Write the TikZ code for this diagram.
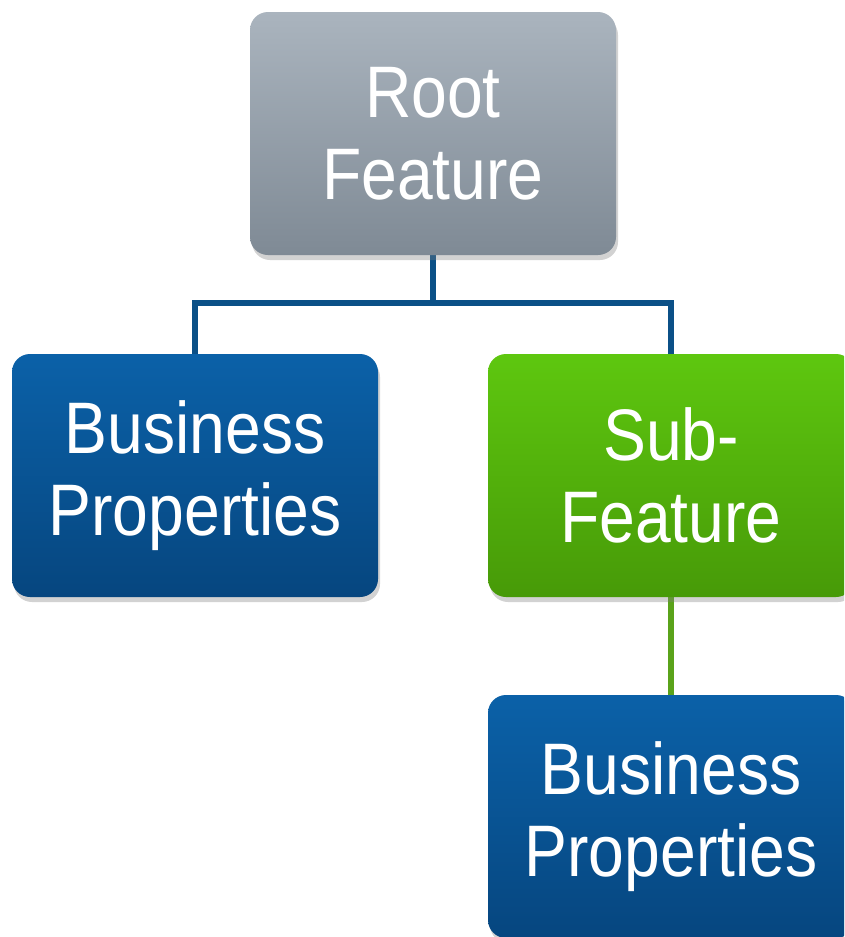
\documentclass[tikz,border=0pt]{standalone}
\usepackage{fontspec}
\setmainfont[FakeStretch=0.88]{Liberation Sans}
\usetikzlibrary{shadows,backgrounds}
\definecolor{grayT}{HTML}{AAB4BE}
\definecolor{grayB}{HTML}{7F8A95}
\definecolor{blueT}{HTML}{0B61A8}
\definecolor{blueB}{HTML}{06467F}
\definecolor{greenT}{HTML}{5EC70F}
\definecolor{greenB}{HTML}{479A08}
\definecolor{connBlue}{HTML}{0B5087}
\definecolor{connGreen}{HTML}{5AA31A}
\begin{document}
\begin{tikzpicture}[x=1pt,y=-1pt,
  box/.style={rounded corners=18pt, minimum width=366pt, minimum height=243pt,
    text=white, font=\fontsize{73}{82}\selectfont, align=center, inner sep=0pt,
    drop shadow={shadow xshift=2pt, shadow yshift=-5pt, opacity=0.35}},
  graybox/.style={box, top color=grayT, bottom color=grayB},
  bluebox/.style={box, top color=blueT, bottom color=blueB},
  greenbox/.style={box, top color=greenT, bottom color=greenB},
  conn/.style={line width=5.5pt}]
\path[use as bounding box] (0,0) rectangle (844,937);
\clip (0,0) rectangle (844,937);
\node[graybox] (root) at (433,133.5) {Root\\Feature};
\node[bluebox] (bp1) at (195,475.5) {Business\\Properties};
\node[greenbox] (sub) at (671,475.5) {Sub-\\Feature};
\node[bluebox] (bp2) at (671,816.5) {Business\\Properties};
\coordinate (j) at (433,303);
\begin{scope}[on background layer]
\fill[white] (0,0) rectangle (844,937);
\draw[conn, draw=connBlue] (root.south) -- (j);
\draw[conn, draw=connBlue] (bp1.north) -- (bp1.north |- j) -- (sub.north |- j) -- (sub.north);
\draw[conn, draw=connGreen] (sub.south) -- (bp2.north);
\end{scope}
\end{tikzpicture}
\end{document}
